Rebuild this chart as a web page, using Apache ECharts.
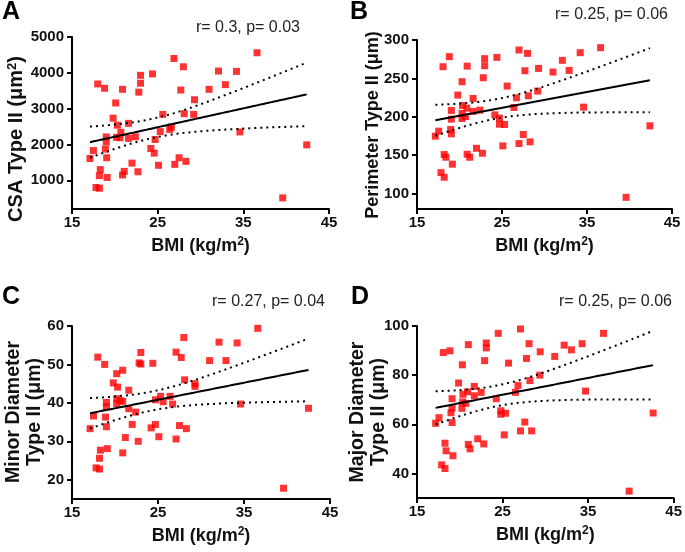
<!DOCTYPE html>
<html><head><meta charset="utf-8">
<script src="https://cdn.jsdelivr.net/npm/echarts@6/dist/echarts.min.js"></script>
<style>html,body{margin:0;padding:0;background:#fff}#c{width:685px;height:552px}</style>
</head><body><div id="c"></div>
<script>
// Panel A: CSA Type II vs BMI
const bmiA = [17.1,17.5,18.0,17.8,18.2,18.2,18.3,18.8,18.9,19.0,19.0,19.05,19.1,19.8,20.1,20.3,20.2,20.6,20.7,20.9,20.9,21.1,21.6,21.6,22.0,22.4,22.7,22.8,23.0,23.0,24.2,24.4,24.6,24.7,25.1,25.3,25.6,26.4,26.6,26.9,27.0,27.5,27.7,28.0,28.1,28.3,29.2,29.3,31.0,32.1,32.9,34.2,34.6,36.6,39.6,42.4];
const csaA = [1610,1830,3690,800,780,1130,1300,3570,1870,2210,2070,1630,1080,2735,3160,2540,2200,2190,2340,3540,1150,1250,2590,2170,1480,2215,1240,3460,3930,3710,1890,3970,1760,2140,1420,2360,2840,2420,2485,4400,1445,1630,3520,4170,2860,1530,2840,3250,3540,4050,3670,4040,2350,4560,510,1990];
// Panel B: Perimeter Type II vs BMI
const bmiB = [17.16,17.55,18.06,17.82,18.2,18.2,18.4,18.8,18.96,19.04,19.04,19.04,19.16,19.8,20.3,20.35,20.3,20.3,20.7,20.85,20.9,20.9,21.2,21.6,21.6,22.0,22.4,22.7,22.8,22.96,22.96,24.16,24.4,24.7,24.7,25.3,25.1,25.6,26.4,26.7,27.0,27.0,27.5,27.7,28.0,28.1,28.3,29.2,29.3,31.0,32.1,32.9,34.2,34.6,36.6,39.6,42.4];
const perB = [174.8,181.3,265.2,127.4,121.3,150.9,147.4,278.3,183.5,208.3,197,177.8,138.3,228.3,245.7,214.8,204.3,197.8,200.4,211.3,266,151.3,147.4,223.9,207,159,208.7,152.6,250.9,275.7,266.5,202.6,277.4,198.3,190.4,190,162.2,240,212.2,224.8,287,165.2,177,260,282.6,227.4,167.4,233.5,263,258.3,273.5,260.4,283.5,212.6,290,95.2,188.3];
// Panel C: Minor Diameter Type II vs BMI
const bmiC = [17.1,17.5,18.0,17.8,18.2,18.2,18.3,18.8,18.9,19.0,19.0,19.0,19.1,19.8,20.2,20.3,20.2,20.2,20.6,20.9,20.9,20.9,21.2,21.6,21.6,22.0,22.4,22.7,22.8,23.0,23.0,24.2,24.4,24.7,24.7,25.1,25.3,25.6,26.4,26.7,27.1,27.1,27.5,27.7,28.0,28.1,28.3,29.3,29.3,31.0,32.1,32.9,34.2,34.6,36.6,39.6,42.5];
const minC = [33.3,36.6,51.9,23.1,22.8,25.6,27.7,50.0,36.3,40.1,39.0,33.8,28.1,45.2,47.6,44.1,41.1,39.8,40.6,40.4,48.5,27.0,31.0,43.3,38.5,34.4,37.6,30.0,50.4,53.1,50.1,33.5,50.3,34.4,40.8,31.2,41.7,40.3,41.7,39.7,53.2,30.6,34.1,51.8,57.0,46.0,33.3,44.3,45.0,51.0,55.8,51.0,55.6,39.7,59.4,17.8,38.6];
// Panel D: Major Diameter Type II vs BMI
const bmiD = [17.18,17.57,18.07,17.88,18.27,18.27,18.4,18.85,18.97,19.1,19.1,19.1,19.2,19.86,20.3,20.37,20.25,20.33,20.7,20.9,21.0,21.0,21.2,21.7,21.7,22.1,22.5,22.8,22.9,23.1,23.1,24.26,24.5,24.8,24.8,25.35,25.2,25.7,26.5,26.8,27.1,27.1,27.6,27.8,28.1,28.2,28.4,29.36,29.4,31.1,32.2,33.05,34.3,34.7,36.8,39.8,42.6];
const majD = [60.4,62.7,89.2,43.5,42.0,52.3,49.2,89.9,64.7,70.4,66.6,60.7,47.2,76.8,84.2,72.2,66.5,69.1,68.5,73.2,92.4,51.8,50.0,75.4,71.6,54.1,73.0,52.0,85.9,93.1,91.1,70.4,97.0,65.5,64.1,64.5,55.7,84.9,73.0,75.8,98.8,57.3,60.9,86.8,92.8,77.8,57.3,80.0,89.5,87.6,92.2,90.3,92.8,73.5,97.0,32.8,64.6];

const xTicks = [15,25,35,45];
const yTicksA = [1000,2000,3000,4000,5000];
const yTicksB = [100,150,200,250,300];
const yTicksC = [20,30,40,50,60];
const yTicksD = [40,60,80,100];
const statsText = ['r= 0.3, p= 0.03','r= 0.25, p= 0.06','r= 0.27, p= 0.04','r= 0.25, p= 0.06'];
const panelLetters = ['A','B','C','D'];
const yTitles = ['CSA Type II (\u03bcm{sup|2})','Perimeter Type II (\u03bcm)','Minor Diameter\nType II (\u03bcm)','Major Diameter\nType II (\u03bcm)'];
const xTitle = 'BMI (kg/m{sup|2})';

// Linear regression with 95% confidence band computed from the data
function regress(xs, ys) {
  const n = xs.length;
  const mx = xs.reduce((a,b)=>a+b,0)/n, my = ys.reduce((a,b)=>a+b,0)/n;
  let sxx=0, sxy=0;
  for (let i=0;i<n;i++){ sxx+=(xs[i]-mx)**2; sxy+=(xs[i]-mx)*(ys[i]-my); }
  const b = sxy/sxx, a = my - b*mx;
  let sse=0;
  for (let i=0;i<n;i++){ sse+=(ys[i]-a-b*xs[i])**2; }
  const s2 = sse/(n-2), t = 2.005;
  const x0 = Math.min(...xs), x1 = Math.max(...xs);
  const fit=[], up=[], lo=[];
  const steps = 80;
  for (let k=0;k<=steps;k++){
    const x = x0 + (x1-x0)*k/steps;
    const y = a + b*x;
    const hw = t*Math.sqrt(s2*(1/n + (x-mx)**2/sxx));
    fit.push([x,y]); up.push([x,y+hw]); lo.push([x,y-hw]);
  }
  return {fit, up, lo};
}

const FONT = 'Liberation Sans, Arial, Helvetica, sans-serif';
const panels = [
  {xs:bmiA, ys:csaA, ymin:200, ymax:5000, yt:yTicksA, grid:{left:72, top:37, width:257, height:172}},
  {xs:bmiB, ys:perB, ymin:80, ymax:300, yt:yTicksB, grid:{left:417, top:40, width:255, height:169}},
  {xs:bmiC, ys:minC, ymin:15, ymax:60, yt:yTicksC, grid:{left:72, top:326, width:258, height:173}},
  {xs:bmiD, ys:majD, ymin:30, ymax:100, yt:yTicksD, grid:{left:417, top:326, width:257, height:172}}
];

const grid=[], xAxis=[], yAxis=[], series=[];
const axisCommon = {
  axisLine:{show:true, onZero:false, lineStyle:{color:'#000', width:2}},
  splitLine:{show:false}
};
panels.forEach((p,i)=>{
  grid.push(Object.assign({containLabel:false}, p.grid));
  xAxis.push(Object.assign({}, axisCommon, {
    type:'value', gridIndex:i, min:15, max:45,
    axisTick:{show:true, length:5, lineStyle:{color:'#000', width:2}, customValues:xTicks},
    axisLabel:{color:'#111', fontSize:15, fontWeight:'bold', fontFamily:FONT, margin:6, customValues:xTicks,
      formatter:(v)=>String(v)},
    name:xTitle, nameLocation:'middle', nameGap:27,
    nameTextStyle:{color:'#111', fontSize:18, fontWeight:'bold', fontFamily:FONT, lineHeight:20,
      rich:{sup:{fontSize:12, fontWeight:'bold', fontFamily:FONT, color:'#111', verticalAlign:'top', lineHeight:20}}}
  }));
  yAxis.push(Object.assign({}, axisCommon, {
    type:'value', gridIndex:i, min:p.ymin, max:p.ymax,
    axisTick:{show:true, length:5, lineStyle:{color:'#000', width:2}, customValues:p.yt},
    axisLabel:{color:'#111', fontSize:15, fontWeight:'bold', fontFamily:FONT, margin:8, customValues:p.yt,
      formatter:(v)=>String(v)}
  }));
  series.push({type:'scatter', xAxisIndex:i, yAxisIndex:i, symbol:'rect', symbolSize:7,
    itemStyle:{color:'#ff0000'}, data:p.xs.map((x,k)=>[x,p.ys[k]]), z:2});
  const r = regress(p.xs, p.ys);
  series.push({type:'line', xAxisIndex:i, yAxisIndex:i, data:r.fit, showSymbol:false, symbol:'none',
    lineStyle:{color:'#000', width:2}, z:3, silent:true});
  series.push({type:'line', xAxisIndex:i, yAxisIndex:i, data:r.up, showSymbol:false, symbol:'none',
    lineStyle:{color:'#000', width:2, type:[2,4]}, z:3, silent:true});
  series.push({type:'line', xAxisIndex:i, yAxisIndex:i, data:r.lo, showSymbol:false, symbol:'none',
    lineStyle:{color:'#000', width:2, type:[2,4]}, z:3, silent:true});
});

const letterPos = [[2,12],[350,12.5],[2,297],[351,297]];
const statsPos = [[300,28],[668,15],[325,301.5],[672,301.5]];
const yTitlePos = [[16,139],[373,125],[24,412],[368,412]];
const yTitleSize = [20,18,19.5,19.5];
const graphic = [];
panelLetters.forEach((l,i)=>{
  graphic.push({type:'text', x:letterPos[i][0], y:letterPos[i][1],
    style:{text:l, fontSize:25, fontWeight:'bold', fontFamily:FONT, fill:'#000', align:'left', verticalAlign:'middle'}});
  graphic.push({type:'text', x:statsPos[i][0], y:statsPos[i][1],
    style:{text:statsText[i], fontSize:16, fontFamily:FONT, fill:'#222', align:'right', verticalAlign:'middle'}});
  graphic.push({type:'text', x:yTitlePos[i][0], y:yTitlePos[i][1], rotation:Math.PI/2,
    style:{text:yTitles[i], fontSize:yTitleSize[i], fontWeight:'bold', fontFamily:FONT, fill:'#111', align:'center', verticalAlign:'middle', lineHeight:21,
      rich:{sup:{fontSize:13, fontWeight:'bold', fontFamily:FONT, fill:'#111', verticalAlign:'top', lineHeight:21}}}});
});

const chart = echarts.init(document.getElementById('c'), null, {renderer:'canvas'});
chart.setOption({animation:false, backgroundColor:'#fff', grid, xAxis, yAxis, series, graphic});
</script>
</body></html>
